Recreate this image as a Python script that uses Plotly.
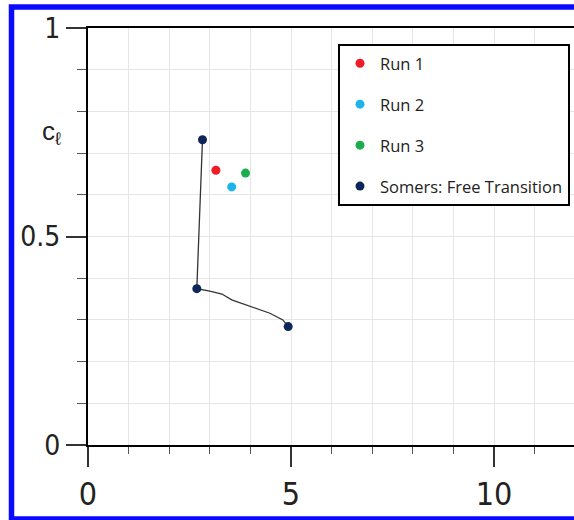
import plotly.graph_objects as go

# ---- data ----
run1_x = [3.15]
run1_y = [0.659]
run2_x = [3.54]
run2_y = [0.619]
run3_x = [3.88]
run3_y = [0.652]
somers_x = [2.82, 2.68, 4.93]
somers_y = [0.732, 0.375, 0.284]
# fitted curve through the Somers points
curve_x = [2.82, 2.68, 3.00, 3.30, 3.54, 4.48, 4.80, 4.93]
curve_y = [0.732, 0.375, 0.369, 0.362, 0.348, 0.316, 0.300, 0.284]

x_ticks = [0, 5, 10]
x_labels = ["0", "5", "10"]
y_ticks = [0, 0.5, 1]
y_labels = ["0", "0.5", "1"]

# ---- layout geometry ----
W, H = 574, 520
ML, MT, MB, MR = 88, 28, 75, 0
PW = W - ML - MR
PH = H - MT - MB
px_per_unit = 40.6
x_max = PW / px_per_unit

def px2paper_x(px):
    return (px - ML) / PW

def py2paper_y(py):
    return (H - MB - py) / PH

fig = go.Figure()

fig.add_trace(go.Scatter(x=curve_x, y=curve_y, mode="lines",
                         line=dict(color="#333333", width=1.3),
                         showlegend=False, hoverinfo="skip"))

common_marker = dict(size=9)
fig.add_trace(go.Scatter(x=run1_x, y=run1_y, mode="markers", name="Run 1",
                         legendgroup="a",
                         marker=dict(color="#ee1c25", **common_marker)))
fig.add_trace(go.Scatter(x=run2_x, y=run2_y, mode="markers", name="Run 2",
                         legendgroup="b",
                         marker=dict(color="#1cb4ea", **common_marker)))
fig.add_trace(go.Scatter(x=run3_x, y=run3_y, mode="markers", name="Run 3",
                         legendgroup="c",
                         marker=dict(color="#1aad4e", **common_marker)))
fig.add_trace(go.Scatter(x=somers_x, y=somers_y, mode="markers",
                         name="Somers: Free Transition", legendgroup="d",
                         marker=dict(color="#0d2557", **common_marker)))

tick_font_y = dict(family="Liberation Sans Narrow, DejaVu Sans Condensed, Arial Narrow, sans-serif",
                   size=28, color="#222222")
tick_font_x = dict(family="Liberation Sans Narrow, DejaVu Sans Condensed, Arial Narrow, sans-serif",
                   size=32, color="#222222")

fig.update_layout(
    width=W, height=H,
    margin=dict(l=ML, r=MR, t=MT, b=MB, pad=0),
    paper_bgcolor="white", plot_bgcolor="white",
    font=dict(family="Open Sans, Liberation Sans, sans-serif", color="#222222"),
    xaxis=dict(range=[0, x_max], tickmode="array", tickvals=x_ticks, ticktext=x_labels,
               ticks="outside", ticklen=20, tickwidth=1.5, tickcolor="#333333",
               showline=True, linecolor="black", linewidth=2, mirror=True,
               showgrid=True, gridcolor="#e6e6e6", gridwidth=1,
               zeroline=False, tickfont=tick_font_x,
               minor=dict(dtick=1, tick0=0, ticks="outside", ticklen=7, tickwidth=1.2,
                          tickcolor="#555555", showgrid=True, gridcolor="#e6e6e6", gridwidth=1)),
    yaxis=dict(range=[0, 1], tickmode="array", tickvals=y_ticks, ticktext=y_labels,
               ticks="outside", ticklen=20, tickwidth=1.5, tickcolor="#333333",
               showline=True, linecolor="black", linewidth=2,
               showgrid=True, gridcolor="#e6e6e6", gridwidth=1,
               zeroline=False, tickfont=tick_font_y,
               minor=dict(dtick=0.1, tick0=0, ticks="outside", ticklen=9, tickwidth=1.2,
                          tickcolor="#555555", showgrid=True, gridcolor="#e6e6e6", gridwidth=1)),
    legend=dict(x=px2paper_x(338), y=py2paper_y(44), xanchor="left", yanchor="top",
                bgcolor="white", bordercolor="black", borderwidth=2,
                font=dict(family="Open Sans, Liberation Sans, sans-serif", size=16.5, color="#222222"),
                tracegroupgap=16.5),
    annotations=[dict(text="c<sub>ℓ</sub>", xref="paper", yref="paper",
                      x=px2paper_x(51), y=py2paper_y(132), xanchor="center", yanchor="middle",
                      showarrow=False,
                      font=dict(family="Liberation Sans, Arial, sans-serif", size=26, color="#222222"))],
    shapes=[dict(type="rect", xref="paper", yref="paper",
                 x0=px2paper_x(11.5), x1=px2paper_x(590),
                 y0=py2paper_y(519), y1=py2paper_y(7),
                 line=dict(color="#0a0aff", width=5.5), fillcolor="rgba(0,0,0,0)",
                 layer="above")],
)

fig.write_html("out.html")
